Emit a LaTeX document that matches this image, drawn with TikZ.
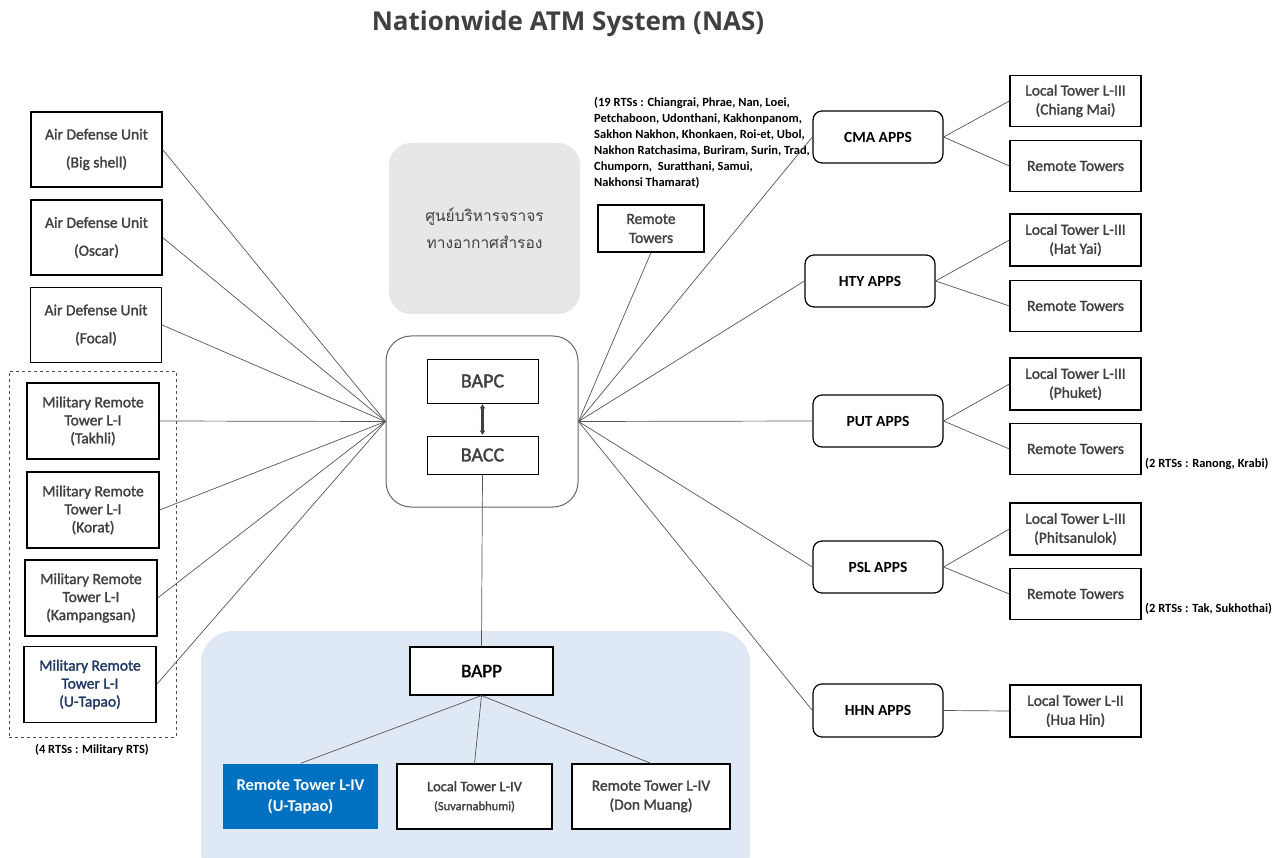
\documentclass[tikz,border=0pt]{standalone}
\usepackage{fontspec}
\setmainfont{Carlito}
\newfontfamily\medfont[FakeBold=1.6]{Carlito}
\newfontfamily\titlefont{Open Sans}
\newfontfamily\thaifont[Script=Thai]{Loma}
\usetikzlibrary{arrows.meta}
\definecolor{txt}{HTML}{404040}
\definecolor{linkc}{HTML}{555555}
\definecolor{bgblue}{HTML}{DEE9F5}
\definecolor{graybox}{HTML}{E7E7E7}
\definecolor{bluebox}{HTML}{0070C0}
\definecolor{navy}{HTML}{1F3864}
\begin{document}
\begin{tikzpicture}[x=1pt,y=-1pt,
  box/.style={draw=black, line width=1.2pt, inner sep=0pt, align=center, text=txt, fill=white,
              font=\medfont\fontsize{15.5}{19}\selectfont},
  adubox/.style={box, minimum width=131pt, minimum height=75pt, font=\medfont\fontsize{15.5}{28}\selectfont},
  milbox/.style={box, minimum width=132pt, minimum height=76pt, font=\medfont\fontsize{15.5}{18}\selectfont},
  twrbox/.style={box, minimum width=131pt, minimum height=51pt},
  appsbox/.style={box, rounded corners=9pt, minimum width=130pt, minimum height=52pt,
                  text=black, font=\bfseries\fontsize{15.5}{17}\selectfont},
  l4box/.style={box, minimum width=155pt, minimum height=65pt},
  note/.style={inner sep=0pt, text=black, font=\bfseries\fontsize{12.5}{16}\selectfont},
  link/.style={draw=linkc, line width=0.7pt}]
\useasboundingbox (0,0) rectangle (1282,858);
\fill[white] (0,0) rectangle (1282,858);
\begin{scope}
  \clip (0,0) rectangle (1282,858);
  \fill[bgblue, rounded corners=32pt] (201,631) rectangle (750,885);
\end{scope}

% title
\node[text=txt, font=\titlefont\bfseries\fontsize{26}{30}\selectfont] (title) at (568,24) {Nationwide ATM System (NAS)};

% left column
\node[adubox] (adu1) at (96.5,149.5) {Air Defense Unit\\(Big shell)};
\node[adubox] (adu2) at (96.5,237.5) {Air Defense Unit\\(Oscar)};
\node[adubox] (adu3) at (96,325) {Air Defense Unit\\(Focal)};
\node[draw=black!70, dashed, line width=0.7pt, minimum width=167pt, minimum height=366pt, inner sep=0pt] (milgrp) at (92.5,554) {};
\node[milbox] (mil1) at (93,421) {Military Remote\\Tower L-I\\(Takhli)};
\node[milbox] (mil2) at (93,510) {Military Remote\\Tower L-I\\(Korat)};
\node[milbox] (mil3) at (91,598) {Military Remote\\Tower L-I\\(Kampangsan)};
\node[milbox, text=navy] (mil4) at (90,684.5) {Military Remote\\Tower L-I\\(U-Tapao)};
\node[note] (milnote) at (92,750) {(4 RTSs : Military RTS)};

% centre
\node[fill=graybox, rounded corners=22pt, minimum width=191pt, minimum height=171pt, inner sep=0pt,
      text=txt, align=center, font=\thaifont\fontsize{15.5}{27}\selectfont] (thai) at (484.5,228.5)
      {ศูนย์บริหารจราจร\\ทางอากาศสำรอง};
\node[draw=black!60, line width=1pt, rounded corners=25pt, minimum width=192pt, minimum height=171pt, inner sep=0pt] (core) at (482,421.5) {};
\node[box, line width=0.8pt, minimum width=111pt, minimum height=44pt, font=\medfont\fontsize{20}{22}\selectfont] (bapc) at (482.5,381) {BAPC};
\node[box, line width=0.8pt, minimum width=111pt, minimum height=38pt, font=\medfont\fontsize{20}{22}\selectfont] (bacc) at (482.5,455) {BACC};
\draw[{Latex[length=4.5pt,width=6pt]}-{Latex[length=4.5pt,width=6pt]}, line width=2.2pt, draw=txt, shorten <=0.5pt, shorten >=0.5pt] (bapc.south) -- (bacc.north);

% bottom group
\node[box, minimum width=143pt, minimum height=48pt, text=black, font=\medfont\fontsize{19}{22}\selectfont] (bapp) at (481.5,671) {BAPP};
\node[box, draw=none, fill=bluebox, text=white, minimum width=155pt, minimum height=65pt,
      font=\bfseries\fontsize{16.5}{21}\selectfont] (rt4u) at (300.5,796.5) {Remote Tower L-IV\\(U-Tapao)};
\node[l4box, font=\medfont\fontsize{14.5}{19}\selectfont] (lt4s) at (474.5,796.5) {Local Tower L-IV\\{\fontsize{12.5}{15}\selectfont (Suvarnabhumi)}};
\node[l4box, minimum width=158pt] (rt4d) at (651,796.5) {Remote Tower L-IV\\(Don Muang)};

% right side
\node[box, minimum width=106pt, minimum height=47pt] (rtm) at (651,228.5) {Remote\\Towers};
\node[note, anchor=north west, align=left] (rtsnote) at (594,97)
  {(19 RTSs : Chiangrai, Phrae, Nan, Loei,\\Petchaboon, Udonthani, Kakhonpanom,\\Sakhon Nakhon, Khonkaen, Roi-et, Ubol,\\Nakhon Ratchasima, Buriram, Surin, Trad,\\Chumporn,\ \ Suratthani, Samui,\\Nakhonsi Thamarat)};

\node[appsbox] (cma) at (878,137) {CMA APPS};
\node[twrbox] (ltcm) at (1075.5,101) {Local Tower L-III\\(Chiang Mai)};
\node[twrbox] (rtcm) at (1075.5,166) {Remote Towers};

\node[appsbox] (hty) at (870,281) {HTY APPS};
\node[twrbox, minimum height=52pt] (lthy) at (1075.5,240) {Local Tower L-III\\(Hat Yai)};
\node[twrbox] (rthy) at (1075.5,306) {Remote Towers};

\node[appsbox] (put) at (878,421) {PUT APPS};
\node[twrbox, minimum height=52pt] (ltpu) at (1075.5,384) {Local Tower L-III\\(Phuket)};
\node[twrbox] (rtpu) at (1075.5,449) {Remote Towers};
\node[note, anchor=west] (note1) at (1145,464) {(2 RTSs : Ranong, Krabi)};

\node[appsbox] (psl) at (878,567) {PSL APPS};
\node[twrbox, minimum height=52pt] (ltps) at (1075.5,529) {Local Tower L-III\\(Phitsanulok)};
\node[twrbox] (rtps) at (1075.5,594) {Remote Towers};
\node[note, anchor=west] (note2) at (1145,609) {(2 RTSs : Tak, Sukhothai)};

\node[appsbox, minimum height=53pt] (hhn) at (878,710.5) {HHN APPS};
\node[twrbox, minimum height=52pt] (lthh) at (1075.5,711) {Local Tower L-II\\(Hua Hin)};

% connectors left
\foreach \n in {adu1,adu2,adu3,mil1,mil2,mil3,mil4}
  \draw[link] (\n.east) -- (core.west);
% connectors right
\foreach \n in {cma,hty,put,psl,hhn}
  \draw[link] (core.east) -- (\n.west);
\draw[link] (rtm.south) -- (core.east);
\draw[link] (cma.east) -- (ltcm.west);
\draw[link] (cma.east) -- (rtcm.west);
\draw[link] (hty.east) -- (lthy.west);
\draw[link] (hty.east) -- (rthy.west);
\draw[link] (put.east) -- (ltpu.west);
\draw[link] (put.east) -- (rtpu.west);
\draw[link] (psl.east) -- (ltps.west);
\draw[link] (psl.east) -- (rtps.west);
\draw[link] (hhn.east) -- (lthh.west);
% bottom connectors
\draw[link] (bacc.south) -- (bapp.north);
\draw[link] (bapp.south) -- (rt4u.north);
\draw[link] (bapp.south) -- (lt4s.north);
\draw[link] (bapp.south) -- (rt4d.north);
\end{tikzpicture}
\end{document}
